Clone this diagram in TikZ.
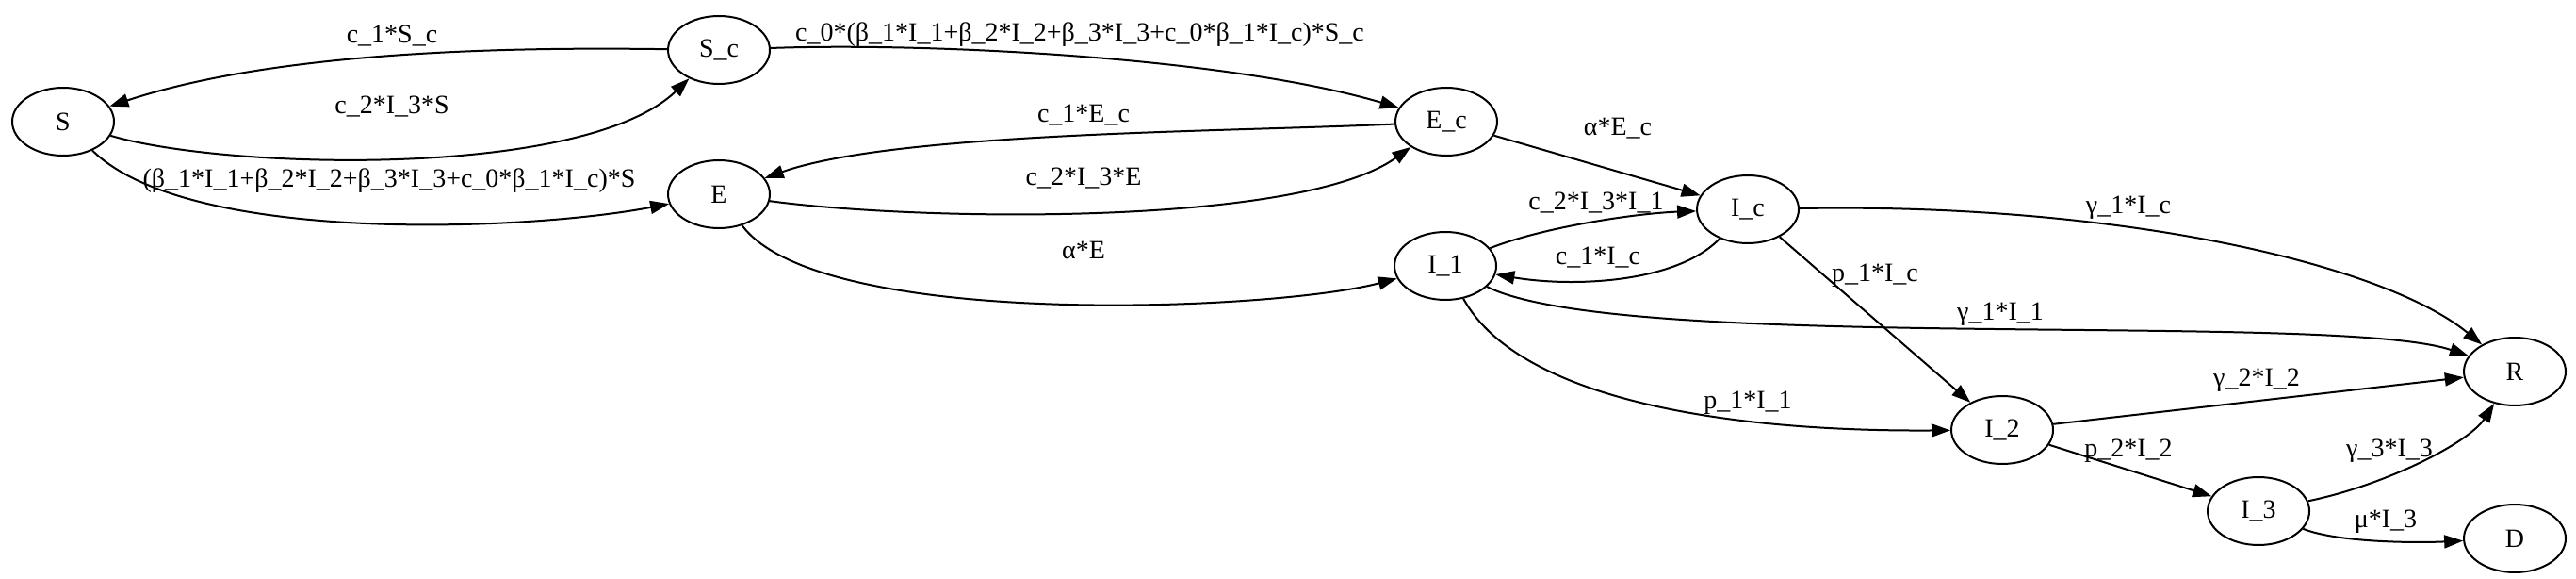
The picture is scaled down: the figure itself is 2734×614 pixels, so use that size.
\documentclass[tikz,border=0pt]{standalone}
\usepackage{fontspec}
\setmainfont{Liberation Serif}
\usetikzlibrary{arrows.meta, shapes.geometric}

\begin{document}
\begin{tikzpicture}[
  x=0.5pt, y=-0.5pt,
  >={Triangle[length=10pt, width=7pt]},
  state/.style={draw, ellipse, line width=1pt, minimum width=54pt, minimum height=36pt, inner sep=0pt, font=\fontsize{14}{16}\selectfont},
  flow/.style={->, line width=1pt},
  rate/.style={inner sep=0pt, font=\fontsize{14}{16}\selectfont},
]
\useasboundingbox (0,0) rectangle (2734,614);

% --- Compartments ---
\node[state] (S)  at (67,129)   {S};
\node[state] (Sc) at (763,53)   {S\_c};
\node[state] (E)  at (763,206)  {E};
\node[state] (Ec) at (1535,129) {E\_c};
\node[state] (Ic) at (1855,222) {I\_c};
\node[state] (I1) at (1534,282) {I\_1};
\node[state] (R)  at (2669,394) {R};
\node[state] (I2) at (2125,456) {I\_2};
\node[state] (I3) at (2397,542) {I\_3};
\node[state] (D)  at (2669,571) {D};

% --- Susceptible flows ---
\draw[flow] (Sc) .. controls (560,50) and (300,52) .. (S);
\node[rate] (lScS) at (416,38) {c\_1*S\_c};
\draw[flow] (S) .. controls (240,180) and (620,190) .. (Sc);
\node[rate] (lSSc) at (416,113) {c\_2*I\_3*S};
\draw[flow] (S) .. controls (200,260) and (560,245) .. (E);
\node[rate] (lSE) at (413,192) {(β\_1*I\_1+β\_2*I\_2+β\_3*I\_3+c\_0*β\_1*I\_c)*S};

% --- Exposed flows ---
\draw[flow] (Sc) .. controls (980,45) and (1300,60) .. (Ec);
\node[rate] (lScEc) at (1146,37) {c\_0*(β\_1*I\_1+β\_2*I\_2+β\_3*I\_3+c\_0*β\_1*I\_c)*S\_c};
\draw[flow] (Ec) .. controls (1300,140) and (950,140) .. (E);
\node[rate] (lEcE) at (1150,122) {c\_1*E\_c};
\draw[flow] (E) .. controls (980,235) and (1380,240) .. (Ec);
\node[rate] (lEEc) at (1150,189) {c\_2*I\_3*E};
\draw[flow] (E) .. controls (870,350) and (1350,330) .. (I1);
\node[rate] (lEI1) at (1150,265) {α*E};
\draw[flow] (Ec) -- (Ic);
\node[rate] (lEcIc) at (1717,136) {α*E\_c};

% --- Infected flows ---
\draw[flow] (I1) .. controls (1640,240) and (1740,226) .. (Ic);
\node[rate] (lI1Ic) at (1694,215) {c\_2*I\_3*I\_1};
\draw[flow] (Ic) .. controls (1780,300) and (1670,305) .. (I1);
\node[rate] (lIcI1) at (1696,273) {c\_1*I\_c};
\draw[flow] (Ic) .. controls (2250,215) and (2530,280) .. (R);
\node[rate] (lIcR) at (2259,220) {γ\_1*I\_c};
\draw[flow] (I1) .. controls (1720,375) and (2480,330) .. (R);
\node[rate] (lI1R) at (2123,333) {γ\_1*I\_1};
\draw[flow] (Ic) -- (I2);
\node[rate] (lIcI2) at (1990,292) {p\_1*I\_c};
\draw[flow] (I1) .. controls (1610,420) and (1820,458) .. (I2);
\node[rate] (lI1I2) at (1855,427) {p\_1*I\_1};
\draw[flow] (I2) -- (R);
\node[rate] (lI2R) at (2395,403) {γ\_2*I\_2};
\draw[flow] (I2) -- (I3);
\node[rate] (lI2I3) at (2259,478) {p\_2*I\_2};
\draw[flow] (I3) .. controls (2530,515) and (2620,470) .. (R);
\node[rate] (lI3R) at (2536,478) {γ\_3*I\_3};
\draw[flow] (I3) .. controls (2480,575) and (2560,576) .. (D);
\node[rate] (lI3D) at (2532,553) {μ*I\_3};

\end{tikzpicture}
\end{document}
